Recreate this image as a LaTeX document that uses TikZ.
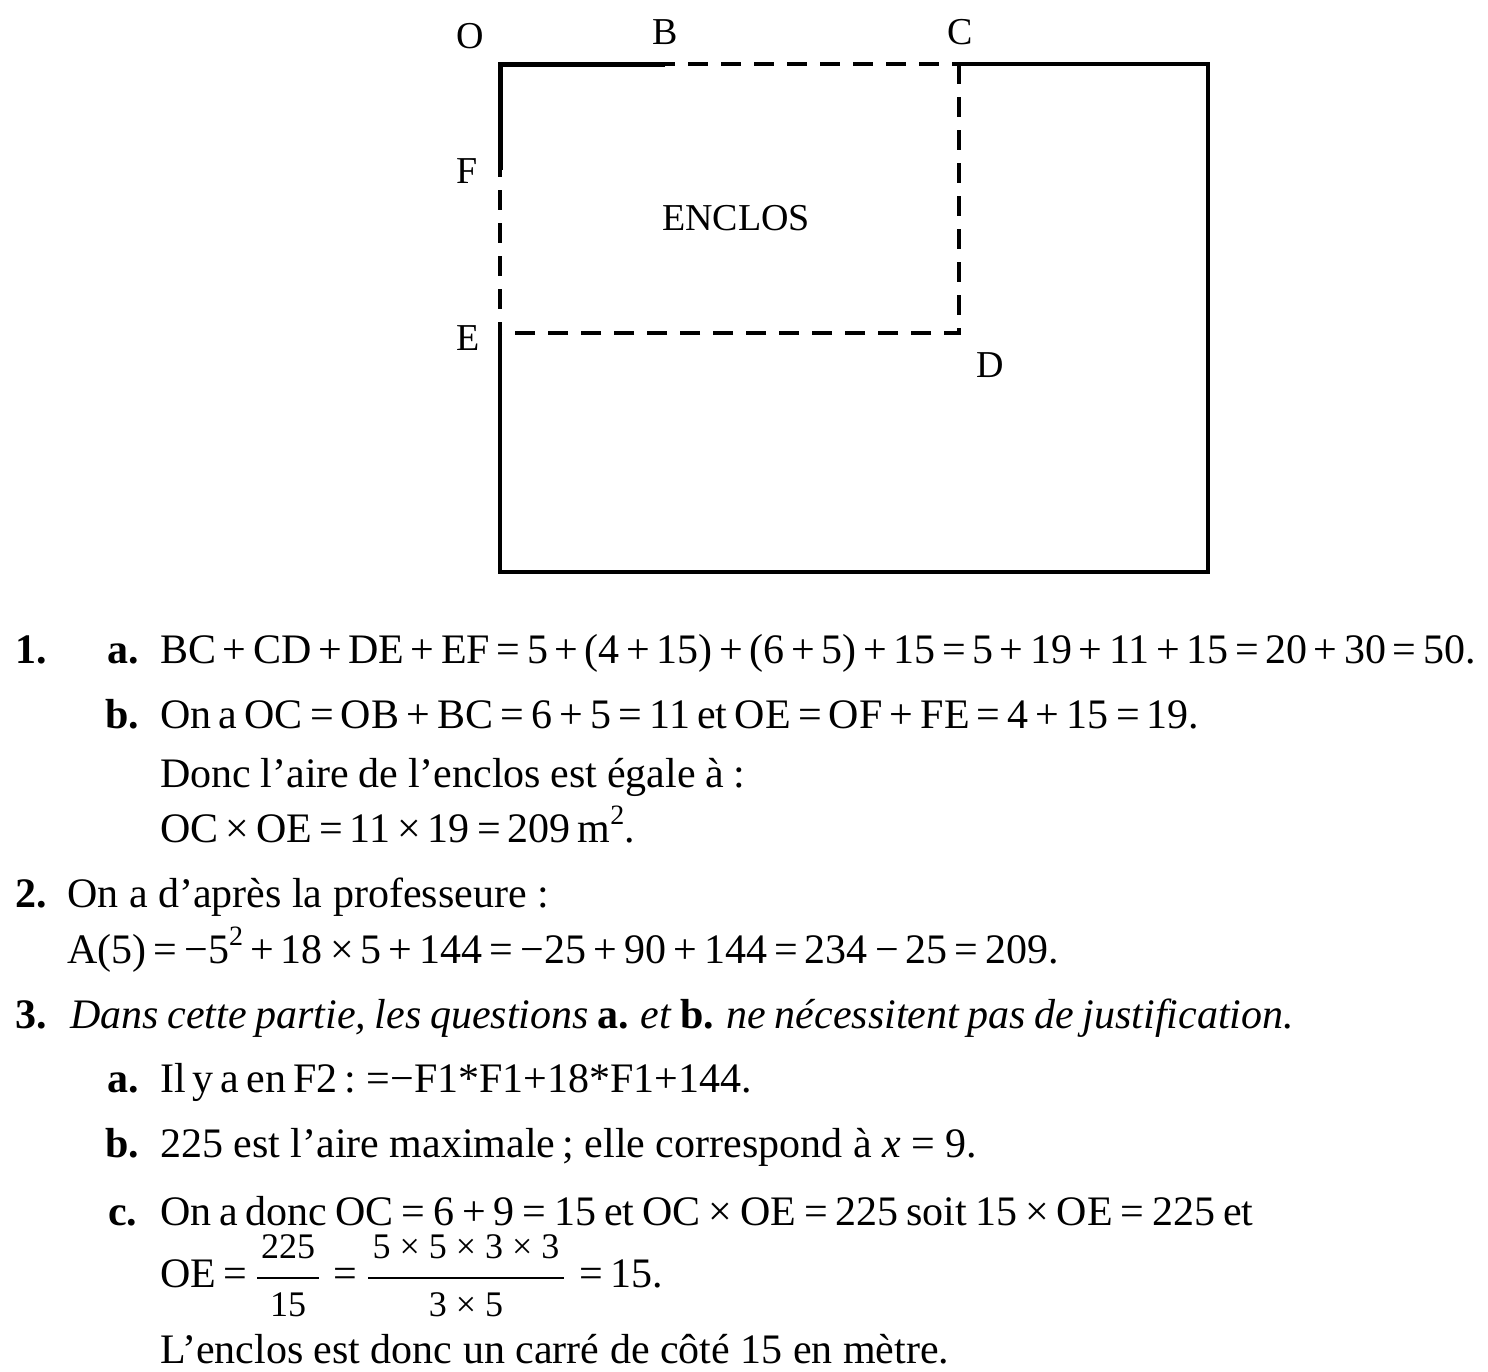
\documentclass[tikz,border=0pt]{standalone}
\usepackage{fontspec}
\setmainfont{Liberation Serif}
\newcommand\sqr{\raisebox{0.42em}{\fontsize{28}{30}\selectfont 2}}
\begin{document}
\begin{tikzpicture}[x=1pt,y=-1pt,
  txt/.style={anchor=base west, inner sep=0pt, font=\fontsize{42}{50}\selectfont},
  mth/.style={txt, execute at begin node={\spaceskip=#1\relax}},
  mth/.default=7.2pt,
  bld/.style={txt, font=\fontsize{42}{50}\selectfont\bfseries},
  frc/.style={anchor=base, inner sep=0pt, font=\fontsize{36}{42}\selectfont, execute at begin node={\spaceskip=9pt\relax}},
  lbl/.style={anchor=base, inner sep=0pt, font=\fontsize{38}{46}\selectfont},
  thick edge/.style={line width=5pt},
  solid edge/.style={line width=3.5pt},
  dash edge/.style={line width=3.5pt, dash pattern=on 20pt off 13pt},
  bar/.style={line width=2.6pt}
]
\useasboundingbox (0,0) rectangle (1488,1371);
% ---- figure ----
\coordinate (O) at (500,64);
\coordinate (B) at (665,64);
\coordinate (C) at (959,64);
\coordinate (D) at (959,333);
\coordinate (E) at (500,333);
\coordinate (F) at (500,170);
\coordinate (R1) at (1208,64);
\coordinate (R2) at (1208,572);
\coordinate (L2) at (500,572);
\draw[solid edge] (C) -- (R1) -- (R2) -- (L2) -- (E);
\draw[dash edge, dash phase=10pt] (B) -- (C);
\draw[dash edge] (C) -- (D) -- (E);
\draw[dash edge, dash phase=13pt] (F) -- (E);
\draw[thick edge] (B) -- (O) -- (F);
\node[lbl] (lO) at (470,48) {O};
\node[lbl] (lB) at (665,44) {B};
\node[lbl] (lC) at (960,44) {C};
\node[lbl] (lF) at (467,183) {F};
\node[lbl] (lE) at (468,350) {E};
\node[lbl] (lD) at (990,377) {D};
\node[lbl] (lEnc) at (736,230) {ENCLOS};
% ---- text ----
\node[bld] (n1) at (15,663) {1.};
\node[bld] (n1a) at (107,663) {a.};
\node[mth=6.6pt] (t1a) at (160,663) {BC + CD + DE + EF = 5 + (4 + 15) + (6 + 5) + 15 = 5 + 19 + 11 + 15 = 20 + 30 = 50.};
\node[bld] (n1b) at (105,728) {b.};
\node[mth=7.2pt] (t1b) at (160,728) {On a OC = OB + BC = 6 + 5 = 11 et OE = OF + FE = 4 + 15 = 19.};
\node[mth=9.6pt] (t1c) at (160,787) {Donc l’aire de l’enclos est égale à :};
\node[mth=7pt] (t1d) at (160,842) {OC × OE = 11 × 19 = 209 m\sqr.};
\node[bld] (n2) at (15,907) {2.};
\node[txt] (t2) at (67,907) {On a d’après la professeure :};
\node[mth=7.1pt] (t2b) at (67,963) {A(5) = −5\sqr{} + 18 × 5 + 144 = −25 + 90 + 144 = 234 − 25 = 209.};
\node[bld] (n3) at (15,1028) {3.};
\node[mth=8.6pt] (t3) at (70,1028) {\textit{Dans cette partie, les questions} \textbf{a.} \textit{et} \textbf{b.} \textit{ne nécessitent pas de justification.}};
\node[bld] (n3a) at (107,1092) {a.};
\node[mth=7pt] (t3a) at (160,1092) {Il y a en F2 : =−F1*F1+18*F1+144.};
\node[bld] (n3b) at (105,1157) {b.};
\node[txt] (t3b) at (160,1157) {225 est l’aire maximale\,; elle correspond à \textit{x} = 9.};
\node[bld] (n3c) at (108,1225) {c.};
\node[mth=7.9pt] (t3c) at (160,1225) {On a donc OC = 6 + 9 = 15 et OC × OE = 225 soit 15 × OE = 225 et};
\node[mth] (t3d) at (160,1287) {OE =};
\node[frc] (fn1) at (288,1258) {225};
\node[frc] (fd1) at (288,1316) {15};
\coordinate (b1l) at (257,1278);
\coordinate (b1r) at (319,1278);
\draw[bar] (b1l) -- (b1r);
\node[mth] (eq2) at (333,1287) {=};
\node[frc] (fn2) at (466,1258) {5 × 5 × 3 × 3};
\node[frc] (fd2) at (466,1316) {3 × 5};
\coordinate (b2l) at (368,1278);
\coordinate (b2r) at (564,1278);
\draw[bar] (b2l) -- (b2r);
\node[mth] (t3f) at (579,1287) {= 15.};
\node[txt] (t3e) at (160,1363) {L’enclos est donc un carré de côté 15 en mètre.};
\end{tikzpicture}
\end{document}
